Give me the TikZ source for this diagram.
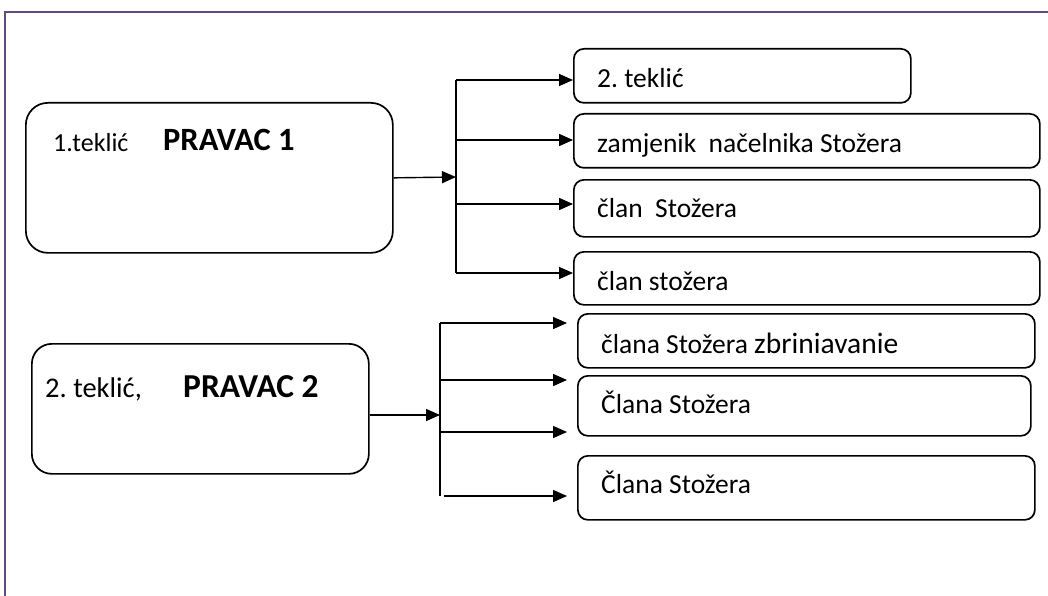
\documentclass[tikz,border=0pt]{standalone}
\usepackage{fontspec}
\setmainfont{Carlito}
\usetikzlibrary{arrows.meta}
\definecolor{framec}{HTML}{5F4B7F}
\frenchspacing
\begin{document}
\begin{tikzpicture}[x=1pt,y=-1pt,
  box/.style={draw=black, line width=1.7pt, rounded corners=#1, inner sep=0pt, anchor=north west},
  box/.default=10pt,
  conn/.style={line width=1.4pt, -{Triangle[length=14pt,width=12pt]}},
  trunkline/.style={line width=1.4pt},
  lbl/.style={anchor=base west, inner sep=0pt, font=\fontsize{27.5}{30}\selectfont},
  bigl/.style={anchor=base west, inner sep=0pt, font=\fontsize{32.5}{36}\selectfont\bfseries}
]
\useasboundingbox (0,0) rectangle (1048,596);
\draw[framec, line width=2.2pt] (5,596) -- (5,12) -- (1048,12);

% left boxes
\node[box=22pt, minimum width=367pt, minimum height=150pt] (p1) at (25,102) {};
\node[box=20pt, minimum width=337pt, minimum height=130pt] (p2) at (31,343) {};
\node[lbl, font=\fontsize{26}{30}\selectfont] (p1a) at (53,152) {1.teklić};
\node[bigl] (p1b) at (163,151) {PRAVAC 1};
\node[lbl, font=\fontsize{28.5}{32}\selectfont] (p2a) at (45,397) {2. teklić,};
\node[bigl, font=\fontsize{33.5}{37}\selectfont\bfseries] (p2b) at (183,397) {PRAVAC 2};

% right boxes, group 1
\node[box, minimum width=337pt, minimum height=54pt] (b1) at (573,48) {};
\node[box, minimum width=466pt, minimum height=54pt] (b2) at (573,113) {};
\node[box, minimum width=466pt, minimum height=57pt] (b3) at (573,179) {};
\node[box, minimum width=466pt, minimum height=53pt] (b4) at (573,251) {};
\node[lbl] (b1t) at (597,88) {2. teklić};
\node[lbl] (b2t) at (597,153) {zamjenik\ \ načelnika Stožera};
\node[lbl] (b3t) at (597,217) {član\ \ Stožera};
\node[lbl] (b4t) at (597,290) {član stožera};

% right boxes, group 2
\node[box, minimum width=457pt, minimum height=54pt] (b5) at (577,313) {};
\node[box, minimum width=453pt, minimum height=60pt] (b6) at (577,375) {};
\node[box, minimum width=457pt, minimum height=64pt] (b7) at (577,455) {};
\node[lbl] (b5t) at (601,353) {člana Stožera {\fontsize{29.5}{32}\selectfont zbriniavanie}};
\node[lbl] (b6t) at (601,413) {Člana Stožera};
\node[lbl] (b7t) at (601,493) {Člana Stožera};

% connectors group 1
\coordinate (t1m) at (456,177);
\coordinate (t1a) at (456,80);
\coordinate (t1b) at (456,140);
\coordinate (t1c) at (456,204);
\coordinate (t1d) at (456,273);
\draw[trunkline] (t1a) -- (t1d);
\draw[conn] (p1.east) -- (t1m);
\draw[conn] (t1a) -- (t1a -| b1.west);
\draw[conn] (t1b) -- (t1b -| b2.west);
\draw[conn] (t1c) -- (t1c -| b3.west);
\draw[conn] (t1d) -- (t1d -| b4.west);

% connectors group 2
\coordinate (t2m) at (440,415);
\coordinate (t2a) at (440,323);
\coordinate (t2b) at (440,380);
\coordinate (t2c) at (440,432);
\coordinate (t2d) at (440,496);
\coordinate (e2a) at (567,323);
\coordinate (e2b) at (567,380);
\coordinate (e2c) at (567,432);
\coordinate (e2d) at (567,496);
\draw[trunkline] (t2a) -- (t2d);
\draw[conn] (t2m -| p2.east) -- (t2m);
\draw[conn] (t2a) -- (e2a);
\draw[conn] (t2b) -- (e2b);
\draw[conn] (t2c) -- (e2c);
\draw[conn] ([xshift=4pt]t2d) -- (e2d);
\end{tikzpicture}
\end{document}
